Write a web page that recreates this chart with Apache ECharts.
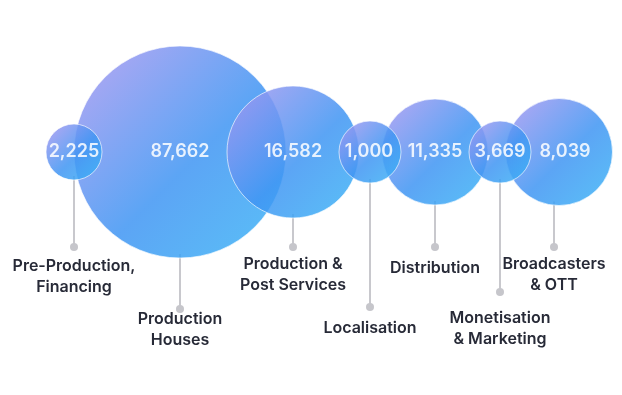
<!DOCTYPE html>
<html>
<head>
<meta charset="utf-8">
<script src="https://cdn.jsdelivr.net/npm/echarts@6/dist/echarts.min.js"></script>
<style>
  html, body { margin: 0; padding: 0; background: #ffffff; }
  #chart { width: 622px; height: 395px; }
</style>
</head>
<body>
<div id="chart"></div>
<script>
// ---- data ----
const categories = [
  'Pre-Production,\nFinancing',
  'Production\nHouses',
  'Production &\nPost Services',
  'Localisation',
  'Distribution',
  'Monetisation\n& Marketing',
  'Broadcasters\n& OTT'
];
const values = [2225, 87662, 16582, 1000, 11335, 3669, 8039];

// ---- layout (axis units = pixels of the 622x395 canvas) ----
const bubbleX = [74, 180, 293, 370, 435, 500, 559];
const bubbleY = 152;
const bubbleDiameter = [56, 212, 132, 62, 106, 62, 107];
const valueLabelDx = [0, 0, 0, -1, 0, 0, 6];
const stemX = [74, 180, 293, 370, 435, 500, 554];
const stemEndY = [247, 309, 247, 307, 247, 292, 247];
const labelFirstLineY = [266, 319, 264, 328, 268, 318, 264];

const chart = echarts.init(document.getElementById('chart'), null, { renderer: 'canvas' });

const bubbleGradient = new echarts.graphic.LinearGradient(0, 0, 1, 1, [
  { offset: 0, color: '#ae98f0' },
  { offset: 0.55, color: '#3f95f3' },
  { offset: 1, color: '#3cb6f6' }
]);

const order = values.map((v, i) => i).sort((a, b) => bubbleDiameter[b] - bubbleDiameter[a]);
const bubbleData = order.map(i => ({
  name: categories[i],
  value: [bubbleX[i], bubbleY, values[i]],
  symbolSize: bubbleDiameter[i],
  label: { offset: [valueLabelDx[i], 0] }
}));

const stemData = values.map((v, i) => [stemX[i], bubbleY, stemEndY[i], labelFirstLineY[i], bubbleDiameter[i], i]);

const LINE_H = 21;

chart.setOption({
  animation: false,
  backgroundColor: '#ffffff',
  grid: { left: 0, right: 0, top: 0, bottom: 0 },
  xAxis: { type: 'value', min: 0, max: 622, show: false },
  yAxis: { type: 'value', min: 0, max: 395, inverse: true, show: false },
  series: [
    {
      type: 'custom',
      z: 1,
      silent: true,
      data: stemData,
      renderItem: function (params, api) {
        const idx = api.value(5);
        const r = api.value(4) / 2;
        const c = api.coord([api.value(0), api.value(1)]);
        const e = api.coord([api.value(0), api.value(2)]);
        const l = api.coord([api.value(0), api.value(3)]);
        return {
          type: 'group',
          children: [
            {
              type: 'line',
              shape: { x1: c[0], y1: c[1] + r - 4, x2: e[0], y2: e[1] },
              style: { stroke: '#c8c8cd', lineWidth: 2 }
            },
            {
              type: 'circle',
              shape: { cx: e[0], cy: e[1], r: 4 },
              style: { fill: '#c6c6cb' }
            },
            {
              type: 'text',
              x: l[0],
              y: l[1] - LINE_H / 2,
              style: {
                text: categories[idx],
                align: 'center',
                verticalAlign: 'top',
                fontFamily: 'Inter',
                fontSize: 16,
                fontWeight: 600,
                lineHeight: LINE_H,
                fill: '#272a37'
              }
            }
          ]
        };
      }
    },
    {
      type: 'scatter',
      z: 2,
      data: bubbleData,
      symbol: 'circle',
      itemStyle: {
        color: bubbleGradient,
        opacity: 0.85,
        borderColor: 'rgba(255,255,255,0.75)',
        borderWidth: 1
      },
      emphasis: { disabled: true },
      label: {
        show: true,
        position: 'inside',
        formatter: p => p.value[2].toLocaleString('en-US'),
        color: '#ffffff',
        fontFamily: 'Inter',
        fontSize: 18,
        fontWeight: 600
      }
    }
  ]
});
</script>
</body>
</html>
